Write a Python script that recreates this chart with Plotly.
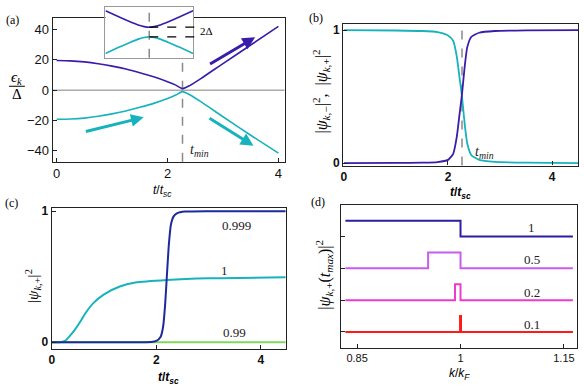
import plotly.graph_objects as go

W, H = 584, 392
def X(p): return p / W
def Y(p): return 1 - p / H

# ---------------- data ----------------
# panel (a): energy levels eps_k/Delta vs t/t_sc
t_a = [0, 0.25, 0.5, 0.75, 1.0, 1.25, 1.5, 1.75, 2.0, 2.15, 2.27, 2.4, 2.6, 3.0, 3.5, 4.0]
e_up = [19.5, 19.3, 18.6, 17.4, 15.8, 13.9, 11.5, 8.8, 5.6, 3.3, 1.0, 3.0, 7.6, 17.5, 29.7, 42.0]
e_dn = [-19.2, -19.0, -18.4, -17.2, -15.6, -13.7, -11.3, -8.7, -5.5, -3.2, -1.0, -3.0, -7.6, -17.5, -29.7, -41.5]
t_min = 2.27

# inset: avoided crossing
x_in = [-4.3, -3.0, -2.0, -1.0, -0.5, 0.0, 0.5, 1.0, 2.0, 3.0, 4.3]
y_in_up = [4.41, 3.16, 2.24, 1.41, 1.12, 1.0, 1.12, 1.41, 2.24, 3.16, 4.41]
y_in_dn = [-4.41, -3.16, -2.24, -1.41, -1.12, -1.0, -1.12, -1.41, -2.24, -3.16, -4.41]

# arrows in (a): (start t, start e, end t, end e)
arrows_a = [
    (2.74, 16.6, 3.58, 34.8, "up"),
    (0.50, -27.5, 1.57, -17.9, "dn"),
    (2.73, -17.9, 3.55, -36.6, "dn"),
]

# panel (b)
t_b = [0, 1.0, 1.5, 1.8, 2.0, 2.1, 2.17, 2.22, 2.27, 2.32, 2.37, 2.45, 2.6, 2.9, 3.5, 4.5]
psi_minus = [1.0, 0.997, 0.993, 0.985, 0.96, 0.92, 0.8, 0.65, 0.5, 0.3, 0.15, 0.06, 0.025, 0.01, 0.004, 0.0]
psi_plus = [0.0, 0.002, 0.004, 0.008, 0.025, 0.07, 0.2, 0.36, 0.52, 0.72, 0.87, 0.95, 0.98, 0.993, 0.998, 1.0]

# panel (c)
t_c1 = [0, 1.5, 1.9, 2.0, 2.08, 2.13, 2.17, 2.2, 2.24, 2.28, 2.33, 2.4, 2.55, 3.0, 4.5]
c_0999 = [0, 0, 0.002, 0.01, 0.04, 0.12, 0.3, 0.5, 0.75, 0.9, 0.96, 0.985, 0.997, 1.0, 1.0]
t_c2 = [0, 0.15, 0.25, 0.35, 0.45, 0.55, 0.65, 0.8, 1.0, 1.3, 1.6, 2.2, 3.0, 4.5]
c_1 = [0, 0, 0.01, 0.05, 0.1, 0.16, 0.225, 0.3, 0.365, 0.425, 0.455, 0.475, 0.488, 0.495]
t_c3 = [0, 4.5]
c_099 = [0, 0]
labels_c = ["0.999", "1", "0.99"]

# panel (d): |psi_{k,+}(t_max)|^2 vs k/k_F
k_1 = [0.833, 1.0, 1.163]
d_1 = [1, 0, 0]
k_05 = [0.833, 0.953, 1.0, 1.163]
d_05 = [0, 1, 0, 0]
k_02 = [0.833, 0.992, 1.0, 1.163]
d_02 = [0, 1, 0, 0]
k_01 = [0.833, 0.9993, 1.0007, 1.163]
d_01 = [0, 1, 0, 0]
labels_d = ["1", "0.5", "0.2", "0.1"]

# ---------------- styles ----------------
INDIGO = "#3a1caa"
CYAN = "#17b3bd"
BLUE_C = "#1c2a9c"
GREEN = "#7ed85c"
D_COLORS = ["#2d1ca4", "#c65cf0", "#ec3ccf", "#ff1a1a"]
D_OFFS = [6, 4, 2, 0]
SANS = "Liberation Sans"
SERIF = "Liberation Serif"

fig = go.Figure()

# panel a
fig.add_trace(go.Scatter(x=t_a, y=e_up, mode="lines", line=dict(color=INDIGO, width=1.6, shape="spline", smoothing=0.6), xaxis="x", yaxis="y"))
fig.add_trace(go.Scatter(x=t_a, y=e_dn, mode="lines", line=dict(color=CYAN, width=1.6, shape="spline", smoothing=0.6), xaxis="x", yaxis="y"))
# panel b
fig.add_trace(go.Scatter(x=t_b, y=psi_minus, mode="lines", line=dict(color=CYAN, width=1.8, shape="spline", smoothing=0.5), xaxis="x2", yaxis="y2"))
fig.add_trace(go.Scatter(x=t_b, y=psi_plus, mode="lines", line=dict(color=INDIGO, width=1.8, shape="spline", smoothing=0.5), xaxis="x2", yaxis="y2"))
# panel c
fig.add_trace(go.Scatter(x=t_c3, y=c_099, mode="lines", line=dict(color=GREEN, width=2), xaxis="x3", yaxis="y3"))
fig.add_trace(go.Scatter(x=t_c2, y=c_1, mode="lines", line=dict(color=CYAN, width=2, shape="spline", smoothing=0.6), xaxis="x3", yaxis="y3"))
fig.add_trace(go.Scatter(x=t_c1, y=c_0999, mode="lines", line=dict(color=BLUE_C, width=2, shape="spline", smoothing=0.5), xaxis="x3", yaxis="y3"))
# panel d
for kk, dd, col, off in zip([k_1, k_05, k_02, k_01], [d_1, d_05, d_02, d_01], D_COLORS, D_OFFS):
    fig.add_trace(go.Scatter(x=kk, y=[v + off for v in dd], mode="lines", line=dict(color=col, width=2, shape="hv"), xaxis="x4", yaxis="y4"))
# inset (last, drawn on top)
fig.add_trace(go.Scatter(x=x_in, y=y_in_up, mode="lines", line=dict(color=INDIGO, width=1.6, shape="spline", smoothing=0.8), xaxis="x5", yaxis="y5"))
fig.add_trace(go.Scatter(x=x_in, y=y_in_dn, mode="lines", line=dict(color=CYAN, width=1.6, shape="spline", smoothing=0.8), xaxis="x5", yaxis="y5"))

def ax(domain, rng, **kw):
    d = dict(domain=domain, range=rng, showline=True, mirror=True, linecolor="#222", linewidth=1.3,
             ticks="inside", ticklen=4, tickcolor="#222", showgrid=False, zeroline=False,
             tickfont=dict(family=SANS, size=13, color="#111"))
    d.update(kw)
    return d

bold = dict(family=SANS + ", Arial", size=12, color="#111", weight="bold")

inset_yr = [-5.33, 5.19]
inset_yd = [Y(56), Y(4)]

fig.update_layout(
    width=W, height=H, margin=dict(l=0, r=0, t=0, b=0),
    paper_bgcolor="white", plot_bgcolor="white", showlegend=False,
    xaxis=ax([X(50), X(283)], [-0.07, 4.11], anchor="y", tickvals=[0, 2, 4]),
    yaxis=ax([Y(162), Y(15)], [-47.1, 47.7], anchor="x", tickvals=[-40, -20, 0, 20, 40],
             ticktext=["\u221240", "\u221220", "0", "20", "40"]),
    xaxis2=ax([X(342), X(578)], [-0.013, 4.5], anchor="y2", tickvals=[0, 2, 4], tickfont=bold),
    yaxis2=ax([Y(166), Y(21)], [-0.018, 1.049], anchor="x2", tickvals=[0, 1], tickfont=bold),
    xaxis3=ax([X(49), X(284)], [0, 4.47], anchor="y3", tickvals=[0, 2, 4], tickfont=bold),
    yaxis3=ax([Y(353), Y(209)], [-0.05, 1.026], anchor="x3", tickvals=[0, 1], tickfont=bold),
    xaxis4=ax([X(340), X(577)], [0.827, 1.169], anchor="y4", tickvals=[0.85, 1, 1.15],
              ticktext=["0.85", "1", "1.15"], tickfont=dict(family=SANS, size=11, color="#111")),
    yaxis4=ax([Y(352), Y(206)], [-1, 8], anchor="x4", showticklabels=False, tickvals=[0, 2, 4, 6]),
    xaxis5=dict(domain=[X(103), X(191)], range=[-4.3, 4.3], anchor="y5", showline=True, mirror=True,
                linecolor="#999", linewidth=1, showticklabels=False, ticks="", showgrid=False, zeroline=False),
    yaxis5=dict(domain=inset_yd, range=inset_yr, anchor="x5", showline=True, mirror=True,
                linecolor="#999", linewidth=1, showticklabels=False, ticks="", showgrid=False, zeroline=False),
)

shapes = []
# zero line in (a)
shapes.append(dict(type="line", xref="x domain", x0=0, x1=1, yref="y", y0=0, y1=0, line=dict(color="#aaaaaa", width=1.5), layer="below"))
# dashed tmin lines
for xa, ya in [("x", "y"), ("x2", "y2")]:
    shapes.append(dict(type="line", xref=xa, x0=t_min, x1=t_min, yref=ya + " domain", y0=0, y1=1,
                       line=dict(color="#8a8a8a", width=1.5, dash="dash"), layer="below"))
# white background of the inset (covers panel (a) behind it)
shapes.append(dict(type="rect", xref="x5 domain", x0=0, x1=1, yref="y5 domain", y0=0, y1=1,
                   fillcolor="white", line=dict(width=0), layer="below"))
shapes.append(dict(type="line", xref="x5", x0=0, x1=0, yref="y5 domain", y0=0, y1=1,
                   line=dict(color="#8a8a8a", width=1.5, dash="dash"), layer="above"))
# 2Delta dashed lines
def inset_py(v):
    return inset_yd[0] + (v - inset_yr[0]) / (inset_yr[1] - inset_yr[0]) * (inset_yd[1] - inset_yd[0])
for v in [y_in_up[5], y_in_dn[5]]:
    shapes.append(dict(type="line", xref="paper", x0=X(147), x1=X(196), yref="paper", y0=inset_py(v), y1=inset_py(v),
                       line=dict(color="black", width=1.2, dash="dash")))
# fraction bar for y label of (a)
shapes.append(dict(type="line", xref="paper", x0=X(6), x1=X(22), yref="paper", y0=Y(85), y1=Y(85),
                   line=dict(color="black", width=1)))
fig.update_layout(shapes=shapes)

ann = []
def txt(x, y, s, size=12, family=SERIF, angle=0, xanchor="center", **kw):
    ann.append(dict(xref="paper", yref="paper", x=X(x), y=Y(y), text=s, showarrow=False, textangle=angle,
                    xanchor=xanchor, yanchor="middle", font=dict(family=family, size=size, color="black"), **kw))

# panel letters
txt(10, 17, "(a)", 12)
txt(315, 15, "(b)", 12)
txt(9, 204, "(c)", 12)
txt(317, 203, "(d)", 12)
# axis titles
txt(14, 77, "<i>\u03f5<sub>k</sub></i>", 15)
txt(14, 93, "\u0394", 15)
txt(160, 192, "<i>t</i>/<i>t</i><sub><i>sc</i></sub>", 12, SANS)
txt(460, 194, "<b><i>t</i>/<i>t</i><sub><i>sc</i></sub></b>", 12, SANS)
txt(166, 383, "<b><i>t</i>/<i>t</i><sub><i>sc</i></sub></b>", 12, SANS)
txt(459, 379, "<i>k</i>/<i>k</i><sub><i>F</i></sub>", 12, SANS)
txt(320, 90, "|<i>\u03c8</i><sub><i>k</i>,\u2212</sub>|<sup>2</sup>,  |<i>\u03c8</i><sub><i>k</i>,+</sub>|<sup>2</sup>", 16, angle=-90)
txt(30, 289, "|<i>\u03c8</i><sub><i>k</i>,+</sub>|<sup>2</sup>", 15, angle=-90)
txt(323, 277, "|<i>\u03c8</i><sub><i>k</i>,+</sub>(<i>t</i><sub><i>max</i></sub>)|<sup>2</sup>", 16, angle=-90)
# 2Delta
txt(205, 29, "2\u0394", 11)
fig.update_layout(annotations=ann)

# t_min labels (data coords)
fig.add_annotation(x=2.37, y=-40, xref="x", yref="y", text="<i>t<sub>min</sub></i>", showarrow=False,
                   xanchor="left", font=dict(family=SERIF, size=14, color="#222"))
fig.add_annotation(x=2.49, y=0.08, xref="x2", yref="y2", text="<i>t<sub>min</sub></i>", showarrow=False,
                   xanchor="left", font=dict(family=SERIF, size=14, color="#222"))
# curve labels (c)
for lab, xv, yv in zip(labels_c, [3.54, 3.31, 3.49], [0.887, 0.545, 0.075]):
    fig.add_annotation(x=xv, y=yv, xref="x3", yref="y3", text=lab, showarrow=False,
                       font=dict(family=SERIF, size=13, color="#222"))
# curve labels (d)
for lab, yv in zip(labels_d, [6.55, 4.58, 2.45, 0.47]):
    fig.add_annotation(x=1.103, y=yv, xref="x4", yref="y4", text=lab, showarrow=False,
                       font=dict(family=SERIF, size=13, color="#222"))
# arrows (a)
for x0, y0, x1, y1, kind in arrows_a:
    fig.add_annotation(x=x1, y=y1, ax=x0, ay=y0, xref="x", yref="y", axref="x", ayref="y", text="",
                       showarrow=True, arrowhead=2, arrowsize=0.85, arrowwidth=3,
                       arrowcolor=INDIGO if kind == "up" else CYAN)

fig.write_html("out.html", config={"displayModeBar": False},
               post_script="document.body.style.margin='0';document.body.style.overflow='hidden';")
